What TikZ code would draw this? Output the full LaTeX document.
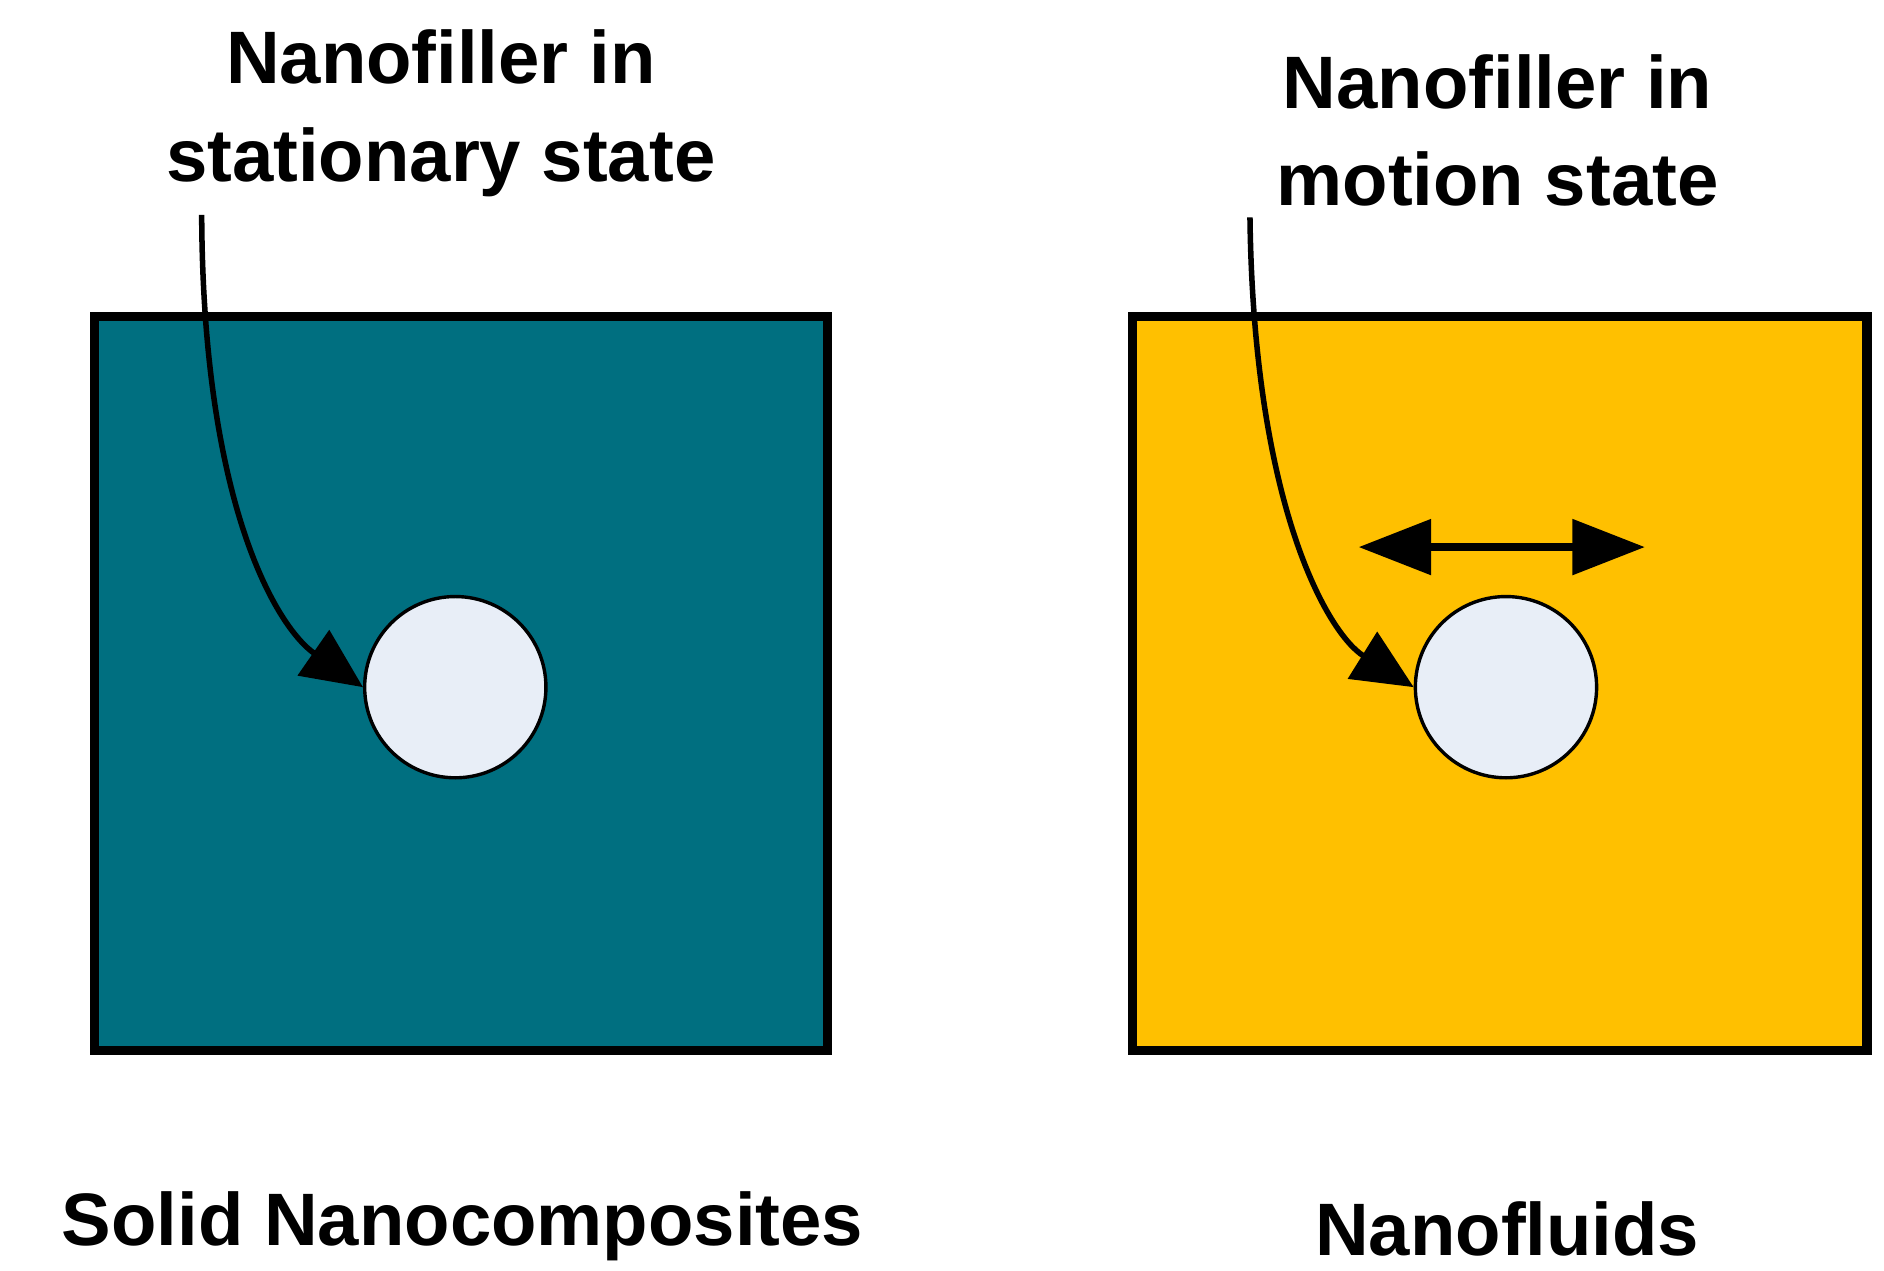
\documentclass[tikz,border=0pt]{standalone}
\usepackage{fontspec}
\setmainfont{Liberation Sans}
\usetikzlibrary{arrows.meta}
\definecolor{teal}{HTML}{006F80}
\definecolor{amber}{HTML}{FFC000}
\definecolor{filler}{HTML}{E8EEF7}
\begin{document}
\begin{tikzpicture}[x=0.01cm,y=-0.01cm,
  medium/.style={draw=black,line width=2.2pt},
  particle/.style={circle,draw=black,line width=0.8pt,fill=filler,minimum size=1.5cm,inner sep=0pt},
  caption/.style={align=center,font=\fontsize{17.5}{23}\selectfont\bfseries},
  pointer/.style={line width=1.3pt,-{Triangle[length=0.5cm,width=0.45cm]}},
  motion/.style={line width=1.8pt,{Triangle[length=0.6cm,width=0.45cm]}-{Triangle[length=0.6cm,width=0.45cm]}}]
  \useasboundingbox (0,0) rectangle (1560,1052);

  \draw[medium,fill=teal]  (78,262) rectangle (685,870);
  \draw[medium,fill=amber] (938,262) rectangle (1546,870);

  \node(solid)[particle] at (377,569) {};
  \node(fluid)[particle] at (1247,569) {};

  \node(stationary)[caption] at (365,94)  {Nanofiller in\\stationary state};
  \node(moving)    [caption] at (1240,108){Nanofiller in\\motion state};
  \node(composite) [caption] at (383,1015){Solid Nanocomposites};
  \node(fluids)    [caption] at (1248,1018){Nanofluids};

  \coordinate(tailA) at (167,178);
  \coordinate(tailB) at (1035,180);
  \coordinate(leftB) at (1125,453);
  \coordinate(rightB) at (1362,453);

  \draw[pointer] (tailA) .. controls (168,420) and (230,520) .. (solid.west);
  \draw[pointer] (tailB) .. controls (1038,420) and (1100,525) .. (fluid.west);
  \draw[motion] (leftB) -- (rightB);
\end{tikzpicture}
\end{document}
